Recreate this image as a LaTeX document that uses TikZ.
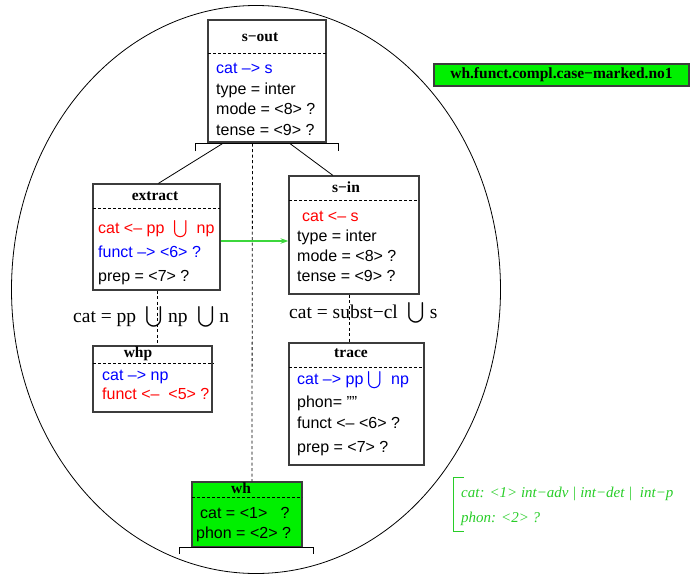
\documentclass[tikz,border=0pt]{standalone}
\usepackage{amsmath}
\usepackage{fontspec}
\setmainfont{Liberation Serif}
\setsansfont{Liberation Sans}
\usetikzlibrary{arrows.meta}
\definecolor{boxgreen}{RGB}{0,240,0}
\definecolor{txtgreen}{RGB}{40,205,40}
\definecolor{arrowgreen}{RGB}{60,215,60}
\definecolor{fblue}{RGB}{0,0,255}
\definecolor{fred}{RGB}{255,0,0}
\definecolor{edgegray}{RGB}{60,60,60}
\newcommand{\bigU}{$\bigcup$}
\begin{document}
\begin{tikzpicture}[x=1pt,y=-1pt,
  fbox/.style={draw=edgegray,line width=1.2pt,rectangle,inner sep=0pt},
  ttl/.style={font=\fontsize{15.5}{16}\selectfont\bfseries,anchor=base,inner sep=0pt},
  row/.style={font=\sffamily\fontsize{16}{16}\selectfont,anchor=base west,inner sep=0pt},
  sepline/.style={line width=0.8pt,dash pattern=on 3pt off 2pt},
  tie/.style={line width=0.8pt},
  vdash/.style={line width=0.8pt,dash pattern=on 3pt off 2.5pt},
  lbl/.style={font=\fontsize{19.5}{20}\selectfont,anchor=base west,inner sep=0pt}]
\useasboundingbox (0,0) rectangle (691,576);

% ellipse
\draw[line width=0.8pt] (256,289.5) ellipse [x radius=244.5pt, y radius=284pt];

% boxes
\node[fbox,minimum width=118pt,minimum height=122pt] (sout) at (267,81) {};
\node[fbox,minimum width=127pt,minimum height=106pt] (extract) at (156.5,237) {};
\node[fbox,minimum width=130pt,minimum height=118pt] (sin) at (354,235) {};
\node[fbox,minimum width=119pt,minimum height=66pt] (whp) at (152.5,379) {};
\node[fbox,minimum width=135pt,minimum height=122pt] (trace) at (356.5,404) {};
\node[fbox,fill=boxgreen,minimum width=110pt,minimum height=65pt] (wh) at (247,514.5) {};

% separators
\draw[sepline] (208,53) -- (326,53);
\draw[sepline] (93,208) -- (220,208);
\draw[sepline] (289,200) -- (419,200);
\draw[sepline] (93,363) -- (214,363);
\draw[sepline] (289,367) -- (424,367);
\draw[sepline] (192,497) -- (302,497);

% bars
\draw[tie] (195,151) -- (195,143) -- (338,143) -- (338,151);
\draw[tie] (179,554) -- (179,547) -- (313,547) -- (313,554);

% titles
\node[ttl] (soutT) at (260,41) {s−out};
\node[ttl] (extractT) at (155,200) {extract};
\node[ttl] (sinT) at (346,192) {s−in};
\node[ttl] (whpT) at (138,357) {whp};
\node[ttl] (traceT) at (351,357) {trace};
\node[ttl] (whT) at (241,493) {wh};

% rows s-out
\node[row,text=fblue] (sout1) at (216,73) {cat –> s};
\node[row] (sout2) at (216,94) {type = inter};
\node[row] (sout3) at (216,114) {mode = <8> ?};
\node[row] (sout4) at (216,135) {tense = <9> ?};
% rows extract
\node[row,text=fred] (ext1) at (98,233) {cat <– pp\ \ \bigU\ \ np};
\node[row,text=fblue] (ext2) at (98,257) {funct –> <6> ?};
\node[row] (ext3) at (98,281) {prep = <7> ?};
% rows s-in
\node[row,text=fred] (sin1) at (302,221) {cat <– s};
\node[row] (sin2) at (297,241) {type = inter};
\node[row] (sin3) at (297,261) {mode = <8> ?};
\node[row] (sin4) at (297,281) {tense = <9> ?};
% rows whp
\node[row,text=fblue] (whp1) at (102,380) {cat –> np};
\node[row,text=fred] (whp2) at (102,399) {funct <–\ \ <5> ?};
% rows trace
\node[row,text=fblue] (tr1) at (297,384) {cat –> pp \bigU\ \ np};
\node[row] (tr2) at (297,407) {phon= \char"22\char"22};
\node[row] (tr3) at (297,428) {funct <– <6> ?};
\node[row] (tr4) at (297,452) {prep = <7> ?};
% rows wh
\node[row] (wh1) at (200,518) {cat = <1>\ \ \ ?};
\node[row] (wh2) at (196,538) {phon = <2> ?};

% labels on dashed links
\node[lbl] (lblL) at (73,322) {cat = pp\ \ \bigU\ np\ \ \bigU\ n};
\node[lbl] (lblR) at (289,318) {cat = subst−cl\ \ \bigU\ s};

% connectors
\draw[tie] ([xshift=-44.5pt,yshift=-1pt]sout.south) -- ([xshift=66pt]extract.north west);
\draw[tie] ([xshift=23pt,yshift=-1pt]sout.south) -- ([xshift=44.5pt]sin.north west);
\draw[vdash] ([xshift=-14.5pt,yshift=-1pt]sout.south) -- ([xshift=60.5pt]wh.north west);
\draw[vdash] ([xshift=65pt]extract.south west) -- ([xshift=65pt]whp.north west);
\draw[vdash] ([xshift=61pt]sin.south west) -- ([xshift=61pt]trace.north west);
\draw[arrowgreen,line width=1.3pt,-{Stealth[length=8pt,width=5.5pt]}] ([yshift=-4pt]extract.east) -- ([yshift=-6pt]sin.west);

% green name label
\node[fbox,fill=boxgreen,minimum width=255pt,minimum height=22pt,
      font=\fontsize{15.5}{16}\selectfont\bfseries] (name) at (561.5,75) {wh.funct.compl.case−marked.no1};

% bracket with constraints
\draw[txtgreen,line width=1pt] (464,477) -- (453,477) -- (453,531) -- (464,531);
\node[font=\itshape\fontsize{15}{15}\selectfont,text=txtgreen,anchor=base west,inner sep=0pt] (cons1) at (461,497) {cat: <1> int−adv | int−det |\ \ int−p};
\node[font=\itshape\fontsize{15}{15}\selectfont,text=txtgreen,anchor=base west,inner sep=0pt] (cons2) at (461,522) {phon: <2> ?};
\end{tikzpicture}
\end{document}
